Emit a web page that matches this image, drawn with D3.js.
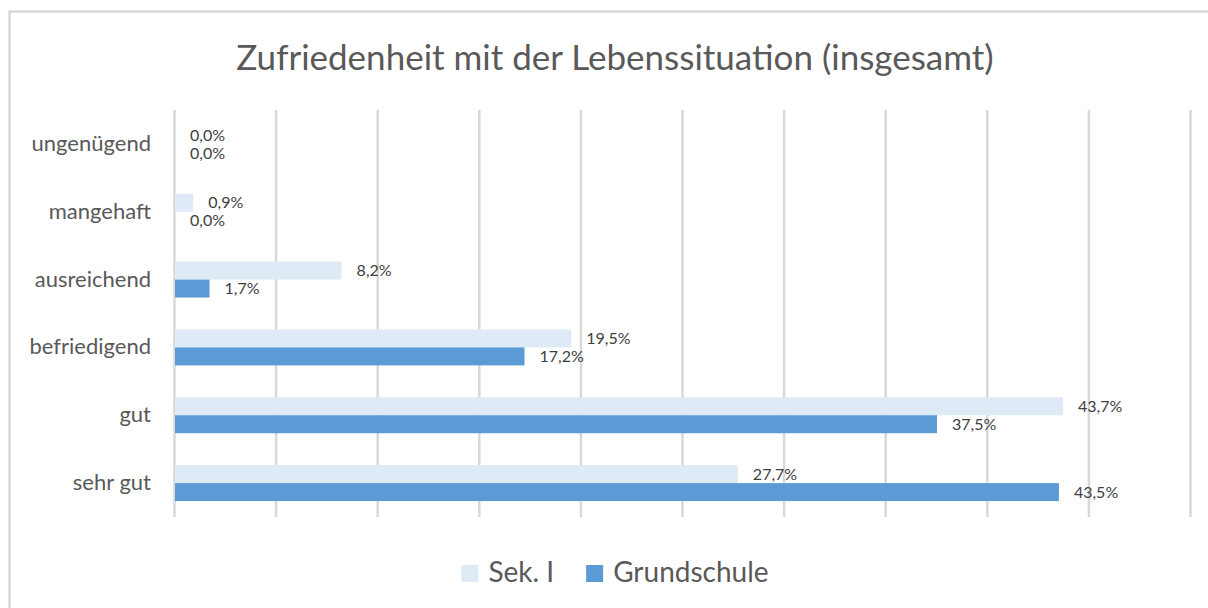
<!DOCTYPE html>
<html>
<head>
<meta charset="utf-8">
<title>Zufriedenheit mit der Lebenssituation</title>
<script src="https://cdnjs.cloudflare.com/ajax/libs/d3/7.8.5/d3.min.js"></script>
<style>
body{ margin:0; padding:0; background:#fff; }
svg{ display:block; font-family:Lato, "Open Sans", sans-serif; }
</style>
</head>
<body>
<div id="chart"></div>
<script>
var categories = ["ungenügend", "mangehaft", "ausreichend", "befriedigend", "gut", "sehr gut"];
var series = ["Sek. I", "Grundschule"];
var sekI = [0.0, 0.9, 8.2, 19.5, 43.7, 27.7];
var grundschule = [0.0, 0.0, 1.7, 17.2, 37.5, 43.5];
var xTicks = [0, 5, 10, 15, 20, 25, 30, 35, 40, 45, 50];
var colors = ["#deebf7", "#5b9bd5"];

(function(){
    var W = 1208, H = 608;
    var left = 174, right = 1190, top = 110, bottom = 517;
    var values = [sekI, grundschule];
    var de = d3.formatLocale({decimal: ",", thousands: ".", grouping: [3], currency: ["", "€"]});
    var fmt = function(v){ return de.format(".1f")(v) + "%"; };

    var svg = d3.select("#chart").append("svg")
        .attr("width", W)
        .attr("height", H);

    // chart frame (right/bottom edges are cut off in the picture)
    svg.append("rect")
        .attr("x", 9.5).attr("y", 11.5)
        .attr("width", 1240).attr("height", 640)
        .attr("fill", "none")
        .attr("stroke", "#d9d9d9")
        .attr("stroke-width", 2.5);

    var x = d3.scaleLinear().domain([0, 50]).range([left, right]);
    var y = d3.scaleBand().domain(categories).range([top, bottom])
        .paddingInner(0.47).paddingOuter(0.235);
    var ys = d3.scaleBand().domain(series).range([0, y.bandwidth()]);

    svg.append("text")
        .attr("x", 615).attr("y", 70)
        .attr("text-anchor", "middle")
        .attr("font-size", 35)
        .attr("fill", "#595959")
        .text("Zufriedenheit mit der Lebenssituation (insgesamt)");

    // vertical gridlines
    var grid = svg.append("g")
        .attr("transform", "translate(0," + bottom + ")")
        .call(d3.axisBottom(x).tickValues(xTicks).tickSize(-(bottom - top)).tickFormat(""));
    grid.select(".domain").remove();
    grid.selectAll("line").attr("stroke", "#d9d9d9").attr("stroke-width", 2.5);

    // category labels
    var ya = svg.append("g")
        .attr("transform", "translate(" + left + ",0)")
        .call(d3.axisLeft(y).tickSize(0).tickPadding(23));
    ya.select(".domain").remove();
    ya.selectAll("text")
        .attr("font-family", "Lato, 'Open Sans', sans-serif")
        .attr("font-size", 22)
        .attr("fill", "#595959");

    var rows = [];
    series.forEach(function(s, si){
        categories.forEach(function(c, ci){
            rows.push({s: s, si: si, c: c, v: values[si][ci]});
        });
    });

    svg.append("g").selectAll("rect")
        .data(rows).enter().append("rect")
        .attr("x", x(0) + 1)
        .attr("y", function(d){ return y(d.c) + ys(d.s); })
        .attr("width", function(d){ return Math.max(0, x(d.v) - x(0)); })
        .attr("height", ys.bandwidth())
        .attr("fill", function(d){ return colors[d.si]; });

    svg.append("g").selectAll("text")
        .data(rows).enter().append("text")
        .attr("x", function(d){ return x(d.v) + 16; })
        .attr("y", function(d){ return y(d.c) + ys(d.s) + ys.bandwidth() / 2; })
        .attr("dy", "0.35em")
        .attr("font-size", 16)
        .attr("fill", "#404040")
        .text(function(d){ return fmt(d.v); });

    // legend, centred under the chart
    var lg = svg.append("g");
    var items = lg.selectAll("g").data(series).enter().append("g");
    items.append("rect")
        .attr("width", 17).attr("height", 17)
        .attr("y", -17)
        .attr("fill", function(d, i){ return colors[i]; });
    items.append("text")
        .attr("x", 27).attr("y", 0)
        .attr("font-size", 28)
        .attr("fill", "#595959")
        .text(function(d){ return d; });
    var pos = 0;
    items.each(function(){
        var w = 27 + d3.select(this).select("text").node().getComputedTextLength();
        d3.select(this).attr("transform", "translate(" + pos + ",0)");
        pos += w + 32;
    });
    pos -= 32;
    lg.attr("transform", "translate(" + (615 - pos / 2) + ",582)");
})();
</script>
</body>
</html>
